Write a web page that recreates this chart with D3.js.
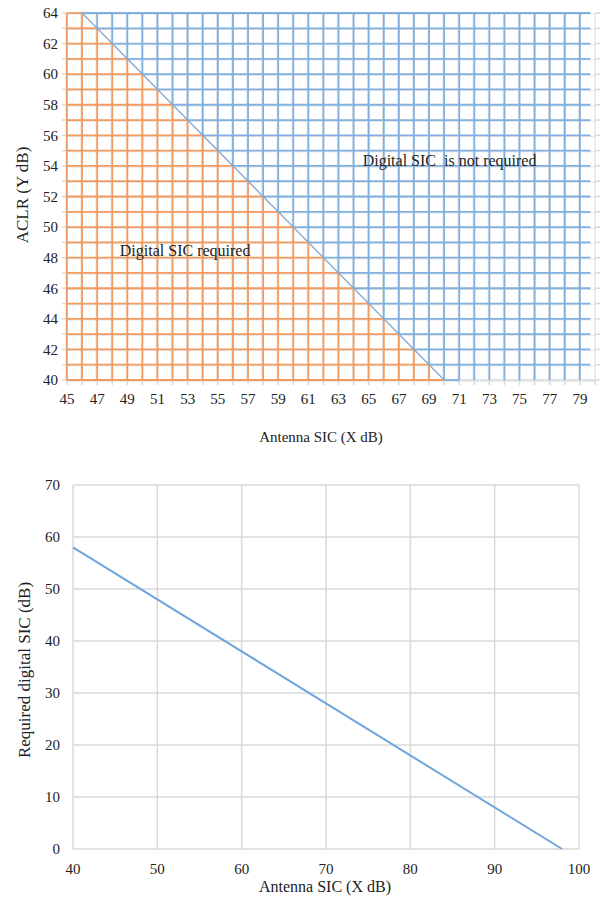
<!DOCTYPE html>
<html><head><meta charset="utf-8">
<script src="https://cdn.jsdelivr.net/npm/d3@7"></script>
<style>
html,body{margin:0;padding:0;background:#fff;}
svg text{font-family:"Liberation Serif","Times New Roman",serif;fill:#222;white-space:pre;}
</style></head>
<body>
<svg id="c" width="601" height="898"></svg>
<script>
// ---------- Top chart data ----------
const topXTickLabels = [45,47,49,51,53,55,57,59,61,63,65,67,69,71,73,75,77,79];
const topYTickLabels = [40,42,44,46,48,50,52,54,56,58,60,62,64];
const gridColumnsX = [45,46,47,48,49,50,51,52,53,54,55,56,57,58,59,60,61,62,63,64,65,66,67,68,69,70,71,72,73,74,75,76,77,78,79];
const gridRowsY = [40,41,42,43,44,45,46,47,48,49,50,51,52,53,54,55,56,57,58,59,60,61,62,63,64];
const boundaryLine = [{x:46,y:64},{x:70,y:40}];   // ACLR + antenna SIC = 110
const boundarySum = 110;
const gridRightEnd = 79.7;
const bottomRowBlueEnd = 71;
const annotations = [
  {text:"Digital SIC required", x:48.5, y:48.1},
  {text:"Digital SIC  is not required", x:64.6, y:54.0}
];

// ---------- Bottom chart data ----------
const botXTickLabels = [40,50,60,70,80,90,100];
const botYTickLabels = [0,10,20,30,40,50,60,70];
const antennaSIC = [40,98];
const requiredDigitalSIC = [58,0];

const svg = d3.select("#c");
const ORANGE = "#f39a5e", BLUE = "#7fb0e0", GREY = "#d9d9d9";

// ================= TOP =================
const x1 = d3.scaleLinear().domain([45,80]).range([67,595]);
const y1 = d3.scaleLinear().domain([40,64]).range([380,13]);
const g1 = svg.append("g");

// faint underlying gridlines
g1.selectAll(".gv").data(gridColumnsX).join("line")
  .attr("x1",d=>x1(d)-1.2).attr("x2",d=>x1(d)-1.2)
  .attr("y1",y1(40)).attr("y2",y1(64))
  .attr("stroke","#e4e4e4").attr("stroke-width",1);
g1.selectAll(".gh").data(gridRowsY).join("line")
  .attr("x1",x1(45)).attr("x2",x1(80))
  .attr("y1",d=>y1(d)+1.2).attr("y2",d=>y1(d)+1.2)
  .attr("stroke","#e4e4e4").attr("stroke-width",1);
// axis lines
g1.append("line").attr("x1",x1(45)).attr("x2",x1(80)).attr("y1",y1(40)).attr("y2",y1(40)).attr("stroke",GREY).attr("stroke-width",1.5);
g1.append("line").attr("x1",x1(80)).attr("x2",x1(80)).attr("y1",y1(40)).attr("y2",y1(64)).attr("stroke","#e6e6e6").attr("stroke-width",1.5);
// ticks
g1.selectAll(".tl").data(gridRowsY).join("line")
  .attr("x1",x1(45)-5).attr("x2",x1(45)).attr("y1",d=>y1(d)).attr("y2",d=>y1(d))
  .attr("stroke",GREY).attr("stroke-width",1.5);
g1.selectAll(".tr").data(gridRowsY).join("line")
  .attr("x1",x1(80)).attr("x2",x1(80)+5).attr("y1",d=>y1(d)).attr("y2",d=>y1(d))
  .attr("stroke",GREY).attr("stroke-width",1.5);
g1.selectAll(".tb").data(gridColumnsX.concat([80])).join("line")
  .attr("x1",d=>x1(d)).attr("x2",d=>x1(d)).attr("y1",y1(40)).attr("y2",y1(40)+5)
  .attr("stroke",GREY).attr("stroke-width",1.5);

// orange region (below boundary)
g1.selectAll(".oh").data(gridRowsY).join("line")
  .attr("x1",x1(45)).attr("x2",d=>x1(Math.min(80,boundarySum-d)))
  .attr("y1",d=>y1(d)).attr("y2",d=>y1(d))
  .attr("stroke",ORANGE).attr("stroke-width",1.8);
g1.selectAll(".ov").data(gridColumnsX.filter(d=>boundarySum-d>40)).join("line")
  .attr("x1",d=>x1(d)).attr("x2",d=>x1(d))
  .attr("y1",y1(40)).attr("y2",d=>y1(Math.min(64,boundarySum-d)))
  .attr("stroke",ORANGE).attr("stroke-width",1.8);
// blue region (above boundary)
g1.selectAll(".bh").data(gridRowsY).join("line")
  .attr("x1",d=>x1(boundarySum-d))
  .attr("x2",d=>x1(d===40?bottomRowBlueEnd:gridRightEnd))
  .attr("y1",d=>y1(d)).attr("y2",d=>y1(d))
  .attr("stroke",BLUE).attr("stroke-width",1.8);
g1.selectAll(".bv").data(gridColumnsX.filter(d=>boundarySum-d<64)).join("line")
  .attr("x1",d=>x1(d)).attr("x2",d=>x1(d))
  .attr("y1",d=>y1(Math.max(40,boundarySum-d))).attr("y2",y1(64))
  .attr("stroke",BLUE).attr("stroke-width",1.8);
// boundary
g1.append("path").datum(boundaryLine)
  .attr("d",d3.line().x(d=>x1(d.x)).y(d=>y1(d.y)))
  .attr("stroke","#86a9d0").attr("stroke-width",1.3).attr("fill","none");

// tick labels
g1.selectAll(".xl").data(topXTickLabels).join("text")
  .attr("x",d=>x1(d)).attr("y",404).attr("text-anchor","middle")
  .style("font-size","15px").text(d=>d);
g1.selectAll(".yl").data(topYTickLabels).join("text")
  .attr("x",58).attr("y",d=>y1(d)).attr("dy","0.35em").attr("text-anchor","end")
  .style("font-size","15px").text(d=>d);
g1.append("text").attr("x",321).attr("y",442).attr("text-anchor","middle")
  .style("font-size","15px").text("Antenna SIC (X dB)");
g1.append("text").attr("transform","translate(28,195) rotate(-90)").attr("text-anchor","middle")
  .style("font-size","17px").text("ACLR (Y dB)");
g1.selectAll(".ann").data(annotations).join("text")
  .attr("x",d=>x1(d.x)).attr("y",d=>y1(d.y))
  .attr("xml:space","preserve")
  .style("font-size","16px").text(d=>d.text);

// ================= BOTTOM =================
const x2 = d3.scaleLinear().domain([40,100]).range([73,579]);
const y2 = d3.scaleLinear().domain([0,70]).range([849,485]);
const g2 = svg.append("g");
g2.selectAll(".gx").data(botXTickLabels).join("line")
  .attr("x1",d=>x2(d)).attr("x2",d=>x2(d)).attr("y1",y2(0)).attr("y2",y2(70))
  .attr("stroke",GREY).attr("stroke-width",1.5);
g2.selectAll(".gy").data(botYTickLabels).join("line")
  .attr("x1",x2(40)).attr("x2",x2(100)).attr("y1",d=>y2(d)).attr("y2",d=>y2(d))
  .attr("stroke",GREY).attr("stroke-width",1.5);
const lineData = antennaSIC.map((a,i)=>({x:a,y:requiredDigitalSIC[i]}));
g2.append("path").datum(lineData)
  .attr("d",d3.line().x(d=>x2(d.x)).y(d=>y2(d.y)))
  .attr("stroke","#6fa6dc").attr("stroke-width",2).attr("fill","none");
g2.selectAll(".xl").data(botXTickLabels).join("text")
  .attr("x",d=>x2(d)).attr("y",874).attr("text-anchor","middle")
  .style("font-size","15px").text(d=>d);
g2.selectAll(".yl").data(botYTickLabels).join("text")
  .attr("x",60).attr("y",d=>y2(d)).attr("dy","0.35em").attr("text-anchor","end")
  .style("font-size","15px").text(d=>d);
g2.append("text").attr("x",325).attr("y",892).attr("text-anchor","middle")
  .style("font-size","16px").text("Antenna SIC (X dB)");
g2.append("text").attr("transform","translate(30,670) rotate(-90)").attr("text-anchor","middle")
  .style("font-size","17px").text("Required digital SIC (dB)");
</script>
</body></html>
